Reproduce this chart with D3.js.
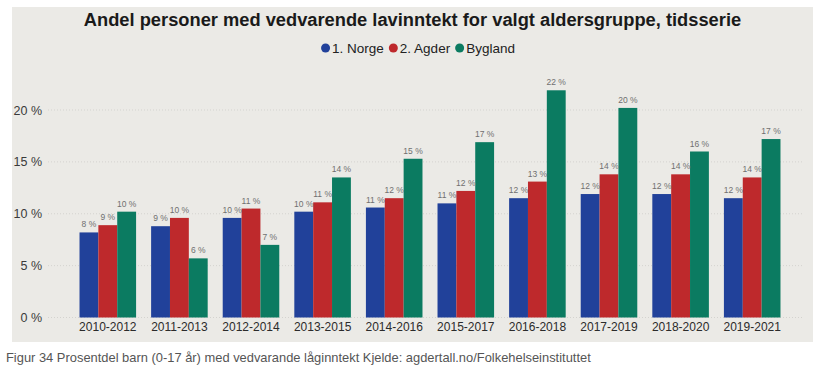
<!DOCTYPE html>
<html>
<head>
<meta charset="utf-8">
<script src="https://cdn.jsdelivr.net/npm/d3@7"></script>
<style>
  html, body { margin: 0; padding: 0; background: #ffffff; }
  svg { display: block; font-family: "Liberation Sans", Arial, sans-serif; }
</style>
</head>
<body>
<svg id="chart" width="835" height="377"></svg>
<script>
const categories = ["2010-2012","2011-2013","2012-2014","2013-2015","2014-2016","2015-2017","2016-2018","2017-2019","2018-2020","2019-2021"];
const seriesNames = ["1. Norge","2. Agder","Bygland"];
const norge   = [8.2, 8.8, 9.6, 10.2, 10.6, 11.0, 11.5, 11.9, 11.9, 11.5];
const agder   = [8.9, 9.6, 10.5, 11.1, 11.5, 12.2, 13.1, 13.8, 13.8, 13.5];
const bygland = [10.2, 5.7, 7.0, 13.5, 15.3, 16.9, 21.9, 20.2, 16.0, 17.2];
const labelsNorge   = ["8 %","9 %","10 %","10 %","11 %","11 %","12 %","12 %","12 %","12 %"];
const labelsAgder   = ["9 %","10 %","11 %","11 %","12 %","12 %","13 %","14 %","14 %","14 %"];
const labelsBygland = ["10 %","6 %","7 %","14 %","15 %","17 %","22 %","20 %","16 %","17 %"];
const yTicks = [0, 5, 10, 15, 20];
const colors = ["#21419a", "#be292c", "#0b7b61"];
const titleText = "Andel personer med vedvarende lavinntekt for valgt aldersgruppe, tidsserie";
const captionText = "Figur 34 Prosentdel barn (0-17 år) med vedvarande låginntekt Kjelde: agdertall.no/Folkehelseinstituttet";

const series = [norge, agder, bygland];
const seriesLabels = [labelsNorge, labelsAgder, labelsBygland];

const svg = d3.select("#chart");

// panel
svg.append("rect").attr("x", 12).attr("y", 7).attr("width", 801).attr("height", 335).attr("fill", "#ebeae6");

const x = d3.scaleBand().domain(categories).range([72, 788]).paddingInner(0.21).paddingOuter(0.105);
const xs = d3.scaleBand().domain(seriesNames).range([0, x.bandwidth()]).padding(0);
const y = d3.scaleLinear().domain([0, 20]).range([317.5, 110]);

// gridlines
svg.append("g").selectAll("line").data(yTicks).join("line")
  .attr("x1", 48).attr("x2", 802)
  .attr("y1", d => y(d)).attr("y2", d => y(d))
  .attr("stroke", "#d4d3cf").attr("stroke-width", 1).attr("stroke-dasharray", "1,2");

// y axis labels
const yAxis = d3.axisLeft(y).tickValues(yTicks).tickFormat(d => d + " %").tickSize(0).tickPadding(0);
const yg = svg.append("g").attr("transform", "translate(42,0)").call(yAxis);
yg.select(".domain").remove();
yg.selectAll("text").attr("font-size", 12.5).attr("fill", "#3a3a3a").attr("font-family", "Liberation Sans, Arial, sans-serif");

// x axis labels
const xAxis = d3.axisBottom(x).tickSize(0).tickPadding(0);
const xg = svg.append("g").attr("transform", "translate(0,322)").call(xAxis);
xg.select(".domain").remove();
xg.selectAll("text").attr("font-size", 12).attr("fill", "#2b2b2b").attr("font-family", "Liberation Sans, Arial, sans-serif");

// bars
const groups = svg.append("g").selectAll("g").data(categories).join("g")
  .attr("transform", d => `translate(${x(d)},0)`);

seriesNames.forEach((name, si) => {
  groups.append("rect")
    .attr("x", xs(name))
    .attr("width", xs.bandwidth())
    .attr("y", (d, i) => y(series[si][i]))
    .attr("height", (d, i) => y(0) - y(series[si][i]))
    .attr("fill", colors[si]);
});
seriesNames.forEach((name, si) => {
  groups.append("text")
    .attr("x", xs(name) + xs.bandwidth() / 2)
    .attr("y", (d, i) => y(series[si][i]) - 5)
    .attr("text-anchor", "middle")
    .attr("font-size", 8.5)
    .attr("fill", "#707070")
    .text((d, i) => seriesLabels[si][i]);
});

// title
svg.append("text").attr("x", 412.5).attr("y", 26).attr("text-anchor", "middle")
  .attr("font-size", 18.3).attr("font-weight", "bold").attr("fill", "#1a1a1a")
  .text(titleText);

// legend
const legend = svg.append("g");
let lx = 0;
const items = legend.selectAll("g").data(seriesNames).join("g");
items.each(function(d, i) {
  const g = d3.select(this);
  g.append("circle").attr("cx", 4.5).attr("cy", 0).attr("r", 4.5).attr("fill", colors[i]);
  const t = g.append("text").attr("x", 11).attr("y", 4.5).attr("font-size", 13.5).attr("fill", "#222").text(d);
  g.attr("transform", `translate(${lx},0)`);
  lx += 11 + t.node().getComputedTextLength() + 5;
});
legend.attr("transform", `translate(${418 - (lx - 5) / 2},48)`);

// caption
svg.append("text").attr("x", 6).attr("y", 362).attr("font-size", 12.9).attr("fill", "#555")
  .text(captionText);
</script>
</body>
</html>
